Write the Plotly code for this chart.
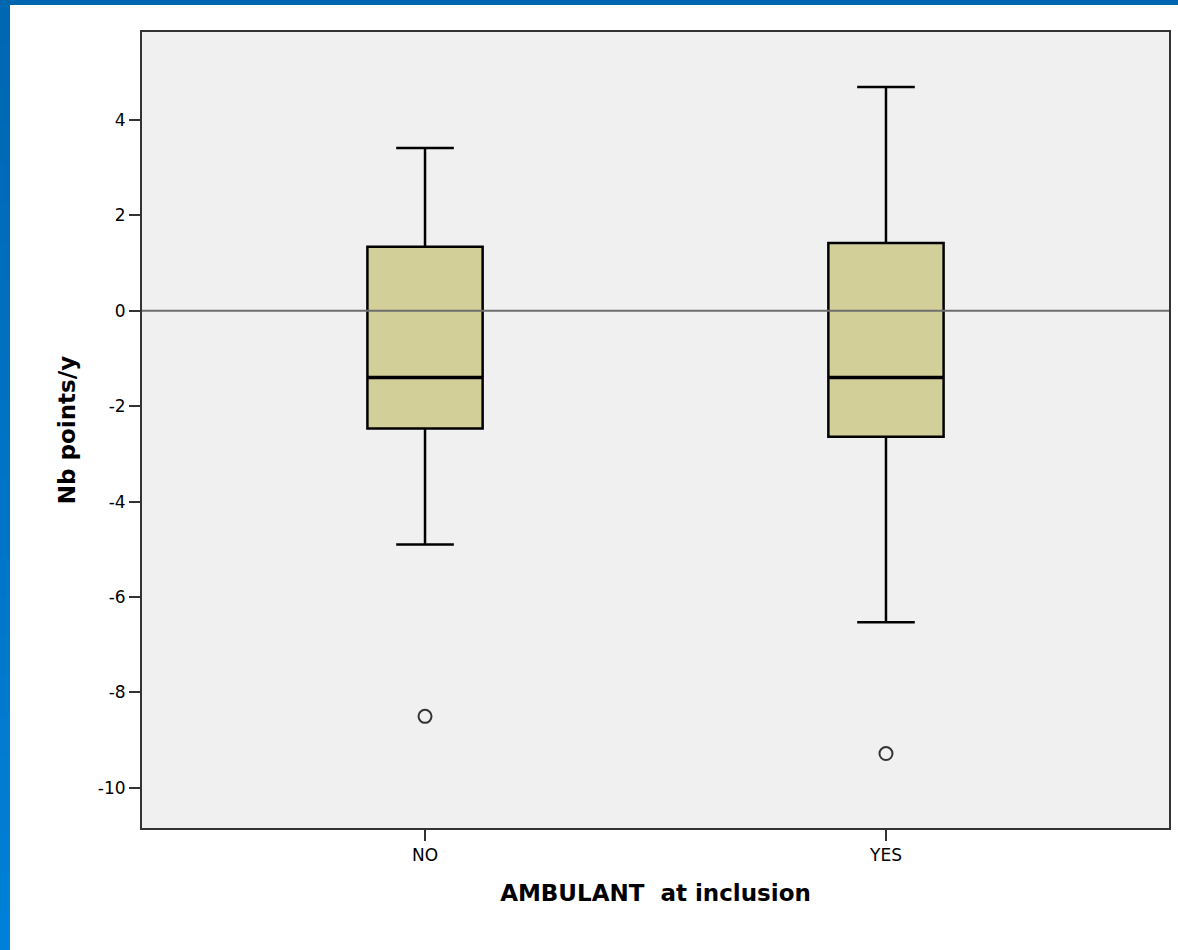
import plotly.graph_objects as go

categories = ["NO", "YES"]
q1 = [-2.47, -2.64]
median = [-1.40, -1.40]
q3 = [1.34, 1.42]
lower_whisker = [-4.90, -6.53]
upper_whisker = [3.41, 4.69]
outliers = [[-8.50], [-9.28]]
y_ticks = [4, 2, 0, -2, -4, -6, -8, -10]

box_fill = "#d3cf98"
box_width = 0.25

fig = go.Figure()
for i, cat in enumerate(categories):
    fig.add_trace(go.Box(
        x=[i], q1=[q1[i]], median=[median[i]], q3=[q3[i]],
        lowerfence=[lower_whisker[i]], upperfence=[upper_whisker[i]],
        width=box_width, whiskerwidth=0.5,
        fillcolor=box_fill, line=dict(color="#000000", width=2.5),
        boxpoints=False, showlegend=False, hoverinfo="skip",
    ))
    # thick median line
    fig.add_trace(go.Scatter(
        x=[i - box_width / 2, i + box_width / 2], y=[median[i], median[i]],
        mode="lines", line=dict(color="#000000", width=3.5),
        showlegend=False, hoverinfo="skip",
    ))
    # outliers
    fig.add_trace(go.Scatter(
        x=[i] * len(outliers[i]), y=outliers[i], mode="markers",
        marker=dict(symbol="circle-open", size=13, color="#333333",
                    line=dict(width=2)),
        showlegend=False, hoverinfo="skip",
    ))

# reference line at zero, drawn over boxes
fig.add_shape(type="line", xref="paper", x0=0, x1=1, yref="y", y0=0, y1=0,
              line=dict(color="#6e6e6e", width=2), layer="above")

# slide decoration: blue bands (top and left)
W, H = 1178, 950
L, R, T, B = 142, 9, 32, 122
pw, ph = W - L - R, H - T - B
def px(x):
    return (x - L) / pw
def py(y):
    return (H - B - y) / ph
fig.add_shape(type="rect", xref="paper", yref="paper", x0=px(0), x1=px(W), y0=py(5), y1=py(0),
              fillcolor="#0066b0", line=dict(width=0), layer="above")
n = 24
c_top = (0x00, 0x67, 0xb2)
c_bot = (0x00, 0x80, 0xd8)
for k in range(n):
    t = k / (n - 1)
    c = "rgb(%d,%d,%d)" % tuple(round(a + (b - a) * t) for a, b in zip(c_top, c_bot))
    y_top = 5 + k * (H - 5) / n
    y_bot = 5 + (k + 1) * (H - 5) / n + 1
    fig.add_shape(type="rect", xref="paper", yref="paper", x0=px(0), x1=px(10),
                  y0=py(y_bot), y1=py(y_top), fillcolor=c, line=dict(width=0), layer="above")

font_family = "DejaVu Sans, Verdana, sans-serif"
fig.update_layout(
    width=W, height=H,
    margin=dict(l=L, r=R, t=T, b=B, autoexpand=False),
    paper_bgcolor="#ffffff", plot_bgcolor="#f0f0f0",
    font=dict(family=font_family, size=17, color="#000000"),
    xaxis=dict(
        range=[-0.614, 1.614], tickvals=list(range(len(categories))), ticktext=categories,
        showgrid=False, zeroline=False, showline=True, mirror=True,
        linecolor="#333333", linewidth=2, ticks="outside", ticklen=11, tickwidth=2,
        tickcolor="#333333", tickfont=dict(size=17),
        title=dict(text="<b>AMBULANT&nbsp; at inclusion</b>", font=dict(size=23), standoff=20),
    ),
    yaxis=dict(
        range=[-10.84, 5.84], tickvals=y_ticks, ticktext=[str(v) for v in y_ticks],
        showgrid=False, zeroline=False, showline=True, mirror=True,
        linecolor="#333333", linewidth=2, ticks="outside", ticklen=11, tickwidth=2,
        tickcolor="#333333", tickfont=dict(size=17),
        title=dict(text="<b>Nb points/y</b>", font=dict(size=23), standoff=16),
    ),
)

fig.write_html("out.html", config={"displayModeBar": False},
               post_script="document.body.style.margin='0';")
